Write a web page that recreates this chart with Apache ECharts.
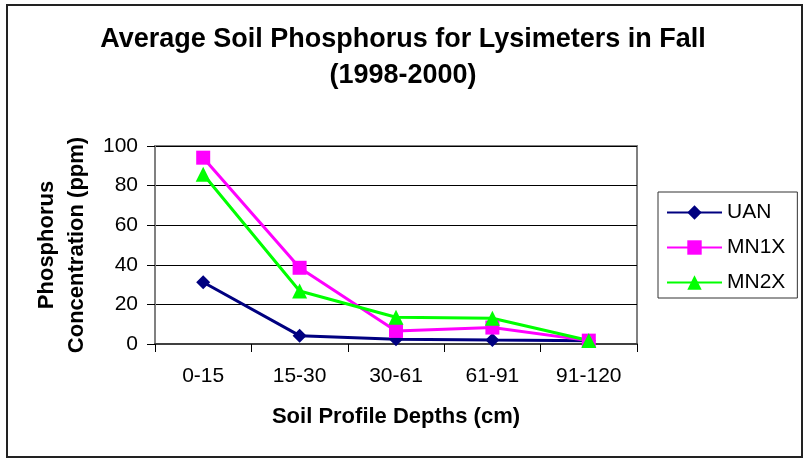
<!DOCTYPE html>
<html>
<head>
<meta charset="utf-8">
<script src="https://cdn.jsdelivr.net/npm/echarts@6/dist/echarts.min.js"></script>
<style>
  html, body { margin: 0; padding: 0; background: #fff; }
  #main { width: 806px; height: 459px; }
</style>
</head>
<body>
<div id="main"></div>
<script>
// depth ranges on the x axis
const depths = ["0-15", "15-30", "30-61", "61-91", "91-120"];
const seriesNames = ["UAN", "MN1X", "MN2X"];
// phosphorus concentration (ppm)
const uan = [31.2, 4.2, 2.4, 2.0, 1.7];
const mn1x = [94.1, 38.5, 6.6, 8.3, 1.7];
const mn2x = [85.7, 26.8, 13.5, 13.0, 1.8];

const font = 'Arial, "Liberation Sans", sans-serif';

const chart = echarts.init(document.getElementById("main"), null, { renderer: "canvas" });

function lineSeries(name, data, color, symbol, size) {
  return {
    name: name,
    type: "line",
    data: data,
    symbol: symbol,
    symbolSize: size,
    showAllSymbol: true,
    lineStyle: { color: color, width: 3 },
    itemStyle: { color: color },
    emphasis: { disabled: true },
    animation: false,
  };
}

chart.setOption({
  backgroundColor: "#fff",
  title: {
    text: "Average Soil Phosphorus for Lysimeters in Fall\n(1998-2000)",
    left: "center",
    top: 17,
    textStyle: { fontFamily: font, fontSize: 27, fontWeight: "bold", color: "#000", lineHeight: 36 },
  },
  legend: {
    data: seriesNames,
    orient: "vertical",
    left: 658,
    top: 192,
    padding: [10, 12, 5, 8],
    itemWidth: 55,
    itemHeight: 18,
    itemGap: 14,
    borderColor: "#333",
    borderWidth: 1,
    lineStyle: { width: 2 },
    textStyle: { fontFamily: font, fontSize: 21, color: "#000" },
  },
  grid: {
    left: 155,
    top: 146,
    right: 169,
    bottom: 115,
    show: true,
    borderColor: "#808080",
    borderWidth: 2,
    backgroundColor: "#fff",
  },
  xAxis: {
    type: "category",
    data: depths,
    boundaryGap: true,
    name: "Soil Profile Depths (cm)",
    nameLocation: "middle",
    nameGap: 62,
    nameTextStyle: { fontFamily: font, fontSize: 22, fontWeight: "bold", color: "#000" },
    axisLine: { lineStyle: { color: "#404040", width: 2 } },
    axisTick: { show: true, length: 8, inside: false, lineStyle: { color: "#000", width: 1 } },
    axisLabel: { fontFamily: font, fontSize: 21, color: "#000", margin: 22 },
    splitLine: { show: false },
  },
  yAxis: {
    type: "value",
    min: 0,
    max: 100,
    interval: 20,
    name: "Phosphorus\nConcentration (ppm)",
    nameLocation: "middle",
    nameRotate: 90,
    nameGap: 61,
    nameTextStyle: { fontFamily: font, fontSize: 22, fontWeight: "bold", color: "#000", lineHeight: 30 },
    axisLine: { show: true, lineStyle: { color: "#808080", width: 2 } },
    axisTick: { show: true, length: 8, lineStyle: { color: "#000", width: 1 } },
    axisLabel: { fontFamily: font, fontSize: 21, color: "#000", margin: 17 },
    splitLine: { show: true, lineStyle: { color: "#000", width: 1 } },
  },
  graphic: [
    {
      type: "rect",
      shape: { x: 7, y: 5, width: 795, height: 452 },
      style: { fill: null, stroke: "#222", lineWidth: 2 },
      silent: true,
      z: 100,
    },
  ],
  series: [
    lineSeries("UAN", uan, "#000080", "diamond", 14),
    lineSeries("MN1X", mn1x, "#FF00FF", "rect", 14),
    lineSeries("MN2X", mn2x, "#00FF00", "triangle", 15),
  ],
});
</script>
</body>
</html>
